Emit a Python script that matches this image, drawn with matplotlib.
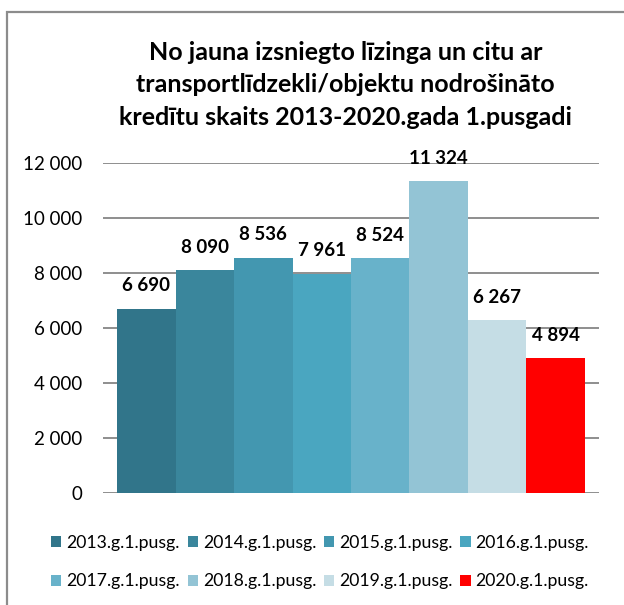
import matplotlib.pyplot as plt
from matplotlib.patches import Rectangle

plt.rcParams['font.family'] = ['Lato', 'DejaVu Sans']

# data
periods = ['2013.g.1.pusg.', '2014.g.1.pusg.', '2015.g.1.pusg.', '2016.g.1.pusg.',
           '2017.g.1.pusg.', '2018.g.1.pusg.', '2019.g.1.pusg.', '2020.g.1.pusg.']
counts = [6690, 8090, 8536, 7961, 8524, 11324, 6267, 4894]
bar_colors = ['#31758a', '#3a869c', '#4397b0', '#4aa6c0',
              '#68b2ca', '#93c4d5', '#c5dde5', '#ff0000']
yticks = [0, 2000, 4000, 6000, 8000, 10000, 12000]

title = ('No jauna izsniegto līzinga un citu ar\n'
         'transportlīdzekli/objektu nodrošināto\n'
         'kredītu skaits 2013-2020.gada 1.pusgadi')


def fmt(v):
    return '{:,}'.format(v).replace(',', ' ')


fig = plt.figure(figsize=(6.24, 6.05), dpi=100)
ax = fig.add_axes([103/624, 1 - 493/605, 496/624, (493 - 162.5)/605])

x = list(range(len(counts)))
bars = ax.bar(x, counts, width=1.0, color=bar_colors, zorder=2)

for xi, v in zip(x, counts):
    ax.annotate(fmt(v), (xi, v), xytext=(0, 16.5), textcoords='offset points',
                ha='center', va='center', fontsize=13.5, fontweight='bold',
                color='black', annotation_clip=False)

ax.set_xlim(-0.74, 7.74)
ax.set_ylim(0, 12000)
ax.set_yticks(yticks)
ax.set_yticklabels([fmt(t) for t in yticks], fontsize=13.5)
ax.set_xticks([])
ax.tick_params(axis='y', length=0, pad=15)
ax.yaxis.grid(True, color='#868686', lw=1.3)
ax.set_axisbelow(True)
for s in ax.spines.values():
    s.set_visible(False)

fig.text(0.554, 1 - 85/605, title, ha='center', va='center', fontsize=18,
         fontweight='bold', linespacing=1.52)

# legend fills row by row, so reorder for matplotlib's column-major layout
ncol = 4
order = [i * ncol + j for j in range(ncol) for i in range(len(bars) // ncol)]
fig.legend([bars[k] for k in order], [periods[k] for k in order],
           loc='center', bbox_to_anchor=(0.513, 1 - 562/605),
           ncol=ncol, frameon=False, fontsize=12.7, handlelength=0.57,
           handleheight=0.57, handletextpad=0.28, columnspacing=0.45,
           labelspacing=1.3, borderaxespad=0, borderpad=0)

fig.patches.append(Rectangle((7/624, -0.1), 1.2, 1.1 - 12/605,
                             transform=fig.transFigure, fill=False,
                             edgecolor='#8c8c8c', lw=1.6))

fig.savefig('out.png', dpi=100)
